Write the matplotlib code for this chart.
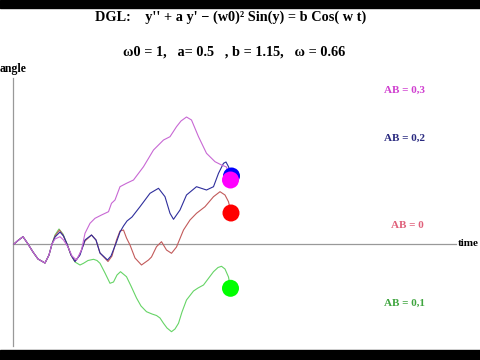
import matplotlib
matplotlib.use("Agg")
import matplotlib.pyplot as plt
from matplotlib.patches import Rectangle

# gemeinsamer Anfang aller Kurven (Zeit, Winkel)
t_start = [0, 0.8, 1.8, 2.8, 3.8, 4.8, 6.2, 7.0, 7.6]
a_start = [0, 0.35, 0.73, 0, -0.8, -1.5, -1.9, -1.1, 0]

# AB = 0,1 (gruen)
t_green = [8.2, 9.0, 9.8, 10.6, 11.4, 12.2, 13.2, 13.9, 14.8, 15.9, 16.6, 17.2,
           18.2, 19.2, 19.9, 20.6, 21.3, 22.5, 23.4, 24.5, 25.4, 26.5, 27.6, 28.5,
           29.2, 29.9, 30.6, 31.5, 32.2, 32.9, 33.6, 34.5, 35.9, 36.8, 37.9, 38.8,
           39.9, 40.8, 41.5, 42.2, 42.9, 43.3]
a_green = [0.9, 1.5, 1.0, 0.0, -1.1, -1.8, -2.1, -1.93, -1.65, -1.53, -1.65, -1.93,
           -2.9, -3.93, -3.8, -3.1, -2.77, -3.27, -4.2, -5.4, -6.2, -6.77, -7.0, -7.15,
           -7.4, -7.93, -8.4, -8.77, -8.5, -7.93, -6.8, -5.6, -4.7, -4.4, -4.1, -3.5,
           -2.77, -2.35, -2.23, -2.5, -3.3, -4.43]

# AB = 0 (rot)
t_red = [8.2, 9.1, 9.8, 10.6, 11.4, 12.2, 13.0, 14.2, 15.5, 16.4, 17.2, 18.8,
         19.6, 20.5, 21.2, 21.9, 22.5, 23.2, 24.2, 25.5, 26.9, 27.5, 28.5, 29.5,
         30.5, 31.5, 32.5, 33.9, 35.2, 36.5, 38.2, 39.9, 41.2, 42.2, 42.9, 43.4]
a_red = [0.8, 1.4, 0.9, 0.0, -1.1, -1.75, -1.2, 0.3, 0.9, 0.4, -0.9, -1.75,
         -1.2, 0.4, 1.3, 1.4, 0.6, -0.1, -1.4, -2.1, -1.6, -1.3, -0.27, 0.23,
         -0.6, -0.93, -0.3, 1.4, 2.4, 3.07, 3.73, 4.73, 5.23, 4.9, 4.23, 3.1]

# AB = 0,2 (blau)
t_blue = [8.2, 9.2, 9.9, 10.6, 11.4, 12.2, 13.2, 14.2, 15.5, 16.4, 17.2, 18.7,
          19.4, 20.5, 21.2, 21.9, 22.6, 23.6, 25.2, 27.2, 28.9, 30.2, 31.2, 31.9,
          33.2, 34.5, 36.5, 38.5, 39.9, 40.9, 41.9, 42.4, 42.9, 43.5]
a_blue = [0.7, 1.2, 0.8, 0.0, -1.1, -1.75, -1.1, 0.4, 0.9, 0.4, -0.9, -1.6,
          -1.2, 0.2, 1.2, 1.8, 2.3, 2.7, 3.73, 5.07, 5.57, 4.73, 3.07, 2.47,
          3.4, 4.9, 5.73, 5.4, 5.73, 7.07, 8.07, 8.2, 7.73, 6.8]

# AB = 0,3 (magenta)
t_mag = [8.2, 9.2, 9.9, 10.8, 11.6, 12.5, 13.5, 14.2, 15.2, 16.2, 17.5, 18.9,
         19.5, 20.2, 21.2, 22.5, 23.9, 25.9, 27.9, 29.9, 31.2, 32.5, 33.4, 34.5,
         35.5, 36.9, 38.5, 40.2, 41.5, 42.5, 43.3]
a_mag = [0.5, 0.73, 0.4, -0.3, -1.2, -1.6, -0.6, 1.07, 2.07, 2.57, 2.9, 3.23,
         4.07, 4.4, 5.73, 6.07, 6.4, 7.73, 9.4, 10.4, 10.73, 11.73, 12.3, 12.7,
         12.4, 10.73, 9.07, 8.23, 7.9, 7.7, 6.4]

kurven = [
    (t_green, a_green, "#66d466", "#00ff00", "AB = 0,1", "#3fa53f", -5.9),
    (t_red, a_red, "#c25a5a", "#ff0000", "AB = 0", "#e0607a", 1.8),
    (t_blue, a_blue, "#2e2e9c", "#0000ff", "AB = 0,2", "#2a2a80", 10.6),
    (t_mag, a_mag, "#c868d4", "#ff00ff", "AB = 0,3", "#d040d0", 15.4),
]
label_t = [78.0, 78.6, 78.0, 78.0]

fig = plt.figure(figsize=(4.8, 3.6), dpi=100)
ax = fig.add_axes([0, 0, 1, 1])
ax.set_xlim(-2.8, 93.2)
ax.set_ylim(-11.6, 24.4)
ax.axis("off")

# Achsen
ax.plot([-0.2, 88.4], [0, 0], color="#999999", lw=0.9, zorder=1)
ax.plot([-0.2, -0.2], [-10.2, 16.6], color="#999999", lw=0.9, zorder=1)

for (t, a, lc, bc, lab, tc, ly), lt in zip(kurven, label_t):
    ax.plot(t_start + t, a_start + a, color=lc, lw=0.8, zorder=2)
    ax.scatter([t[-1]], [a[-1]], s=150, color=bc, zorder=3, edgecolors="none")
    ax.text(lt, ly, lab, color=tc, fontsize=8, fontweight="bold",
            family="Liberation Serif", ha="center", va="center")

ax.text(88.8, 0, "time", fontsize=8, fontweight="bold", family="Liberation Serif",
        ha="left", va="center")
ax.text(-2.8, 17.5, "angle", fontsize=8.5, fontweight="bold", family="Liberation Serif",
        ha="left", va="center")

fig.text(231 / 480, 1 - 17 / 360, "DGL:    y'' + a y' \u2212 (w0)\u00b2 Sin(y) = b Cos( w t)",
         fontsize=10.3, fontweight="bold", family="Liberation Serif",
         ha="center", va="center")
fig.text(234 / 480, 1 - 52 / 360, "\u03c90 = 1,   a= 0.5   , b = 1.15,   \u03c9 = 0.66",
         fontsize=10.3, fontweight="bold", family="Liberation Serif",
         ha="center", va="center")

# schwarze Balken oben und unten
fig.add_artist(Rectangle((0, 0), 1, 10 / 360, transform=fig.transFigure,
                         color="black", zorder=10))
fig.add_artist(Rectangle((0, 1 - 8 / 360), 1, 8 / 360, transform=fig.transFigure,
                         color="black", zorder=10))

fig.savefig("out.png", dpi=100)
